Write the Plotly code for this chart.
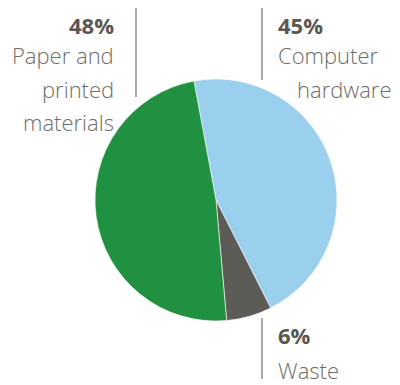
import plotly.graph_objects as go

labels = ["Computer hardware", "Waste", "Paper and printed materials"]
values = [45, 6, 48]
colors = ["#9bcfee", "#5c5c57", "#209140"]
pct_labels = ["45%", "6%", "48%"]

# page body has an 8px margin; size the figure so it fills the rest of the window
OFF = 8
W, H = 400 - OFF, 385 - OFF

def px(x):
    return (x - OFF) / W

def py(y):
    return 1 - (y - OFF) / H

fig = go.Figure()
fig.add_trace(go.Pie(
    labels=labels,
    values=values,
    marker=dict(colors=colors, line=dict(color="#ffffff", width=0.6)),
    sort=False,
    direction="clockwise",
    rotation=-10.5,
    textinfo="none",
    hoverinfo="label+percent",
    showlegend=False,
    domain=dict(x=[px(95), px(337)], y=[py(321), py(79)]),
))

font_name = "Open Sans"
txt_col = "#6f6b67"
bold_col = "#5a5652"
fs = 22

ann = []
def add(text, x, y, xanchor, bold=False, yanchor="middle"):
    ann.append(dict(
        text=f"<b>{text}</b>" if bold else text,
        x=px(x), y=py(y), xref="paper", yref="paper",
        xanchor=xanchor, yanchor=yanchor, showarrow=False,
        font=dict(family=font_name, size=fs, color=bold_col if bold else txt_col,
                  weight=700 if bold else 300),
    ))

# left label block (Paper)
add(pct_labels[2], 116, 8, "right", bold=True, yanchor="top")
add("Paper and", 116, 55, "right")
add("printed", 116, 89, "right")
add("materials", 116, 122, "right")

# right label block (Computer hardware)
add(pct_labels[0], 276, 8, "left", bold=True, yanchor="top")
add("Computer", 276, 55, "left")
add("hardware", 394, 89, "right")

# bottom label block (Waste)
add(pct_labels[1], 276, 335, "left", bold=True)
add("Waste", 276, 370, "left")

line_col = "#8f8a85"
shapes = [
    dict(type="line", xref="paper", yref="paper", x0=px(136), x1=px(136), y0=py(8), y1=py(97),
         line=dict(color=line_col, width=1.5)),
    dict(type="line", xref="paper", yref="paper", x0=px(262), x1=px(262), y0=py(8), y1=py(80),
         line=dict(color=line_col, width=1.5)),
    dict(type="line", xref="paper", yref="paper", x0=px(262), x1=px(262), y0=py(318), y1=py(379),
         line=dict(color=line_col, width=1.5)),
]

fig.update_layout(
    width=W, height=H,
    margin=dict(l=0, r=0, t=0, b=0),
    paper_bgcolor="white",
    plot_bgcolor="white",
    annotations=ann,
    shapes=shapes,
)

fig.write_html("out.html")
